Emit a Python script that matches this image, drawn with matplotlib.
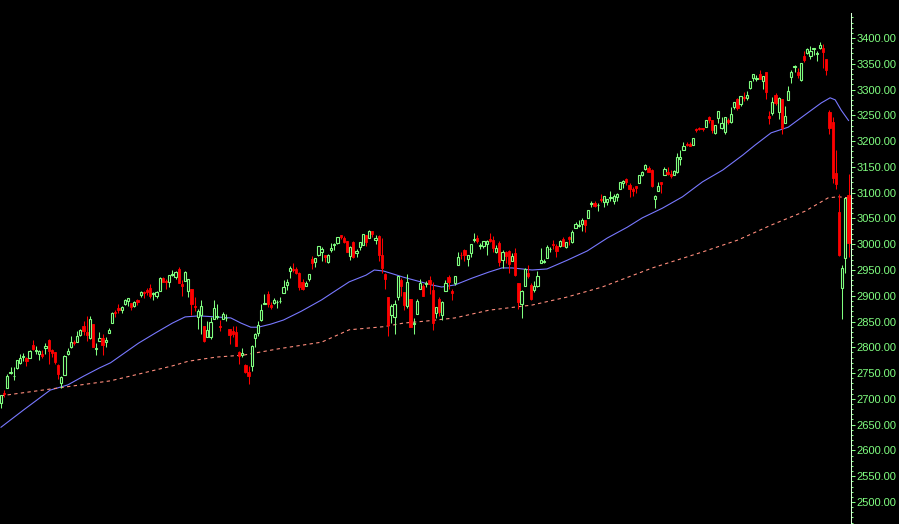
import matplotlib
matplotlib.use("Agg")
import matplotlib.pyplot as plt
from matplotlib.ticker import FixedLocator, FormatStrFormatter

# daily candles, Feb 8 2019 .. Mar 3 2020
opens = [
    # feb
    2692, 2712, 2722, 2750, 2744, 2760, 2770, 2782, 2780, 2780, 2805, 2793, 2787, 2788,
    # mar
    2798, 2814, 2794, 2790, 2766, 2731, 2747, 2787, 2800, 2810, 2810, 2823, 2841, 2829,
    2819, 2845, 2797, 2812, 2819, 2810, 2828,
    # apr
    2848, 2868, 2876, 2873, 2884, 2889, 2886, 2881, 2892, 2901, 2908, 2912, 2916, 2904,
    2899, 2910, 2935, 2928, 2926, 2941, 2937,
    # may
    2952, 2922, 2929, 2909, 2913, 2880, 2859, 2863, 2841, 2820, 2820, 2855, 2859, 2841,
    2855, 2856, 2836, 2832, 2830, 2790, 2786, 2766,
    # jun
    2752, 2763, 2819, 2828, 2853, 2885, 2903, 2882, 2886, 2887, 2889, 2906, 2920, 2949,
    2952, 2951, 2945, 2926, 2919, 2932,
    # jul
    2971, 2965, 2979, 2984, 2980, 2966, 2989, 2999, 3003, 3017, 3012, 3006, 2978, 3004,
    2982, 2994, 2999, 3017, 3013, 3025, 3008, 3016,
    # aug
    2980, 2943, 2898, 2862, 2858, 2897, 2930, 2907, 2880, 2894, 2846, 2864, 2913, 2919,
    2922, 2930, 2911, 2866, 2893, 2862, 2910, 2937,
    # sep
    2910, 2924, 2960, 2980, 2989, 2971, 2982, 3009, 3012, 2997, 2996, 3001, 3010, 3008,
    2984, 3003, 2969, 2985, 2986, 2968,
    # oct
    2983, 2925, 2885, 2919, 2945, 2921, 2911, 2918, 2963, 2966, 2974, 2990, 3001, 2996,
    2997, 3011, 2995, 3014, 3004, 3032, 3036, 3039, 3046,
    # nov
    3050, 3078, 3080, 3076, 3087, 3082, 3081, 3089, 3084, 3091, 3107, 3118, 3127, 3114,
    3108, 3112, 3118, 3134, 3146, 3148,
    # dec
    3144, 3088, 3104, 3120, 3135, 3141, 3136, 3135, 3141, 3166, 3183, 3195, 3195, 3192,
    3223, 3226, 3225, 3227, 3247, 3240, 3215,
    # jan
    3245, 3226, 3218, 3241, 3238, 3267, 3281, 3272, 3285, 3283, 3303, 3323, 3321, 3330,
    3316, 3334, 3248, 3255, 3289, 3256, 3282,
    # feb
    3235, 3280, 3324, 3344, 3335, 3318, 3366, 3370, 3365, 3378, 3369, 3380, 3380, 3360,
    3257, 3238, 3139, 3062, 2916,
    # mar
    2974, 3096,
]
highs = [
    2708, 2718, 2749, 2762, 2761, 2776, 2787, 2789, 2782, 2795, 2814, 2803, 2795, 2794,
    2808, 2816, 2796, 2791, 2767, 2744, 2785, 2798, 2821, 2815, 2831, 2836, 2852, 2861,
    2860, 2846, 2809, 2830, 2826, 2820, 2837,
    2869, 2872, 2885, 2881, 2893, 2896, 2886, 2889, 2893, 2910, 2909, 2916, 2922, 2908,
    2910, 2936, 2937, 2933, 2940, 2950, 2949,
    2955, 2931, 2948, 2933, 2914, 2898, 2875, 2891, 2841, 2852, 2858, 2892, 2885, 2853,
    2868, 2865, 2836, 2841, 2841, 2792, 2799, 2768,
    2763, 2804, 2828, 2852, 2884, 2904, 2910, 2888, 2896, 2891, 2898, 2930, 2932, 2958,
    2964, 2955, 2947, 2932, 2929, 2943,
    2977, 2974, 2996, 2995, 2980, 2981, 3003, 3002, 3014, 3018, 3015, 3006, 2996, 3007,
    2991, 3005, 3020, 3017, 3028, 3025, 3018, 3017,
    3013, 2945, 2898, 2884, 2892, 2938, 2935, 2908, 2943, 2894, 2857, 2893, 2932, 2923,
    2928, 2939, 2927, 2879, 2898, 2890, 2930, 2940,
    2914, 2938, 2985, 2985, 2990, 2980, 3000, 3021, 3017, 3003, 3006, 3008, 3022, 3016,
    2999, 3007, 2989, 2987, 2988, 2983,
    2993, 2925, 2911, 2953, 2959, 2925, 2929, 2948, 2993, 2972, 2998, 2994, 3008, 3000,
    3008, 3014, 3005, 3016, 3027, 3044, 3047, 3050, 3047,
    3067, 3084, 3083, 3079, 3098, 3094, 3088, 3103, 3098, 3099, 3121, 3124, 3128, 3119,
    3111, 3113, 3134, 3142, 3155, 3151,
    3145, 3095, 3120, 3120, 3150, 3149, 3143, 3143, 3176, 3182, 3198, 3198, 3199, 3206,
    3226, 3227, 3226, 3240, 3248, 3241, 3231,
    3258, 3246, 3247, 3245, 3267, 3275, 3283, 3288, 3295, 3298, 3317, 3330, 3329, 3338,
    3327, 3334, 3259, 3286, 3294, 3286, 3282,
    3268, 3306, 3337, 3347, 3341, 3352, 3375, 3381, 3385, 3381, 3375, 3393, 3389, 3360,
    3260, 3247, 3182, 3097, 2959,
    3090, 3136,
]
lows = [
    2682, 2703, 2722, 2748, 2737, 2757, 2768, 2774, 2763, 2780, 2794, 2788, 2775, 2780,
    2787, 2767, 2782, 2768, 2739, 2722, 2746, 2786, 2799, 2804, 2810, 2822, 2823, 2812,
    2817, 2800, 2785, 2812, 2786, 2800, 2827,
    2848, 2859, 2866, 2867, 2882, 2880, 2873, 2879, 2882, 2898, 2896, 2901, 2896, 2892,
    2896, 2909, 2926, 2913, 2917, 2939, 2932,
    2924, 2900, 2929, 2898, 2862, 2871, 2836, 2826, 2810, 2820, 2816, 2855, 2854, 2832,
    2855, 2852, 2806, 2820, 2802, 2767, 2781, 2750,
    2728, 2755, 2801, 2822, 2852, 2885, 2879, 2874, 2884, 2877, 2886, 2905, 2912, 2934,
    2946, 2943, 2911, 2912, 2918, 2929,
    2952, 2956, 2978, 2967, 2966, 2964, 2985, 2988, 3001, 3010, 3002, 2985, 2970, 2974,
    2975, 2988, 2999, 2997, 3013, 3014, 3000, 2967,
    2945, 2914, 2822, 2848, 2825, 2891, 2900, 2873, 2877, 2839, 2825, 2864, 2913, 2899,
    2917, 2904, 2834, 2856, 2860, 2853, 2910, 2914,
    2891, 2921, 2960, 2972, 2967, 2958, 2976, 3004, 3002, 2990, 2993, 2979, 3004, 2985,
    2982, 2957, 2953, 2963, 2945, 2967,
    2938, 2874, 2856, 2918, 2935, 2892, 2907, 2917, 2963, 2963, 2974, 2985, 2991, 2976,
    2995, 2996, 2992, 2999, 3002, 3032, 3034, 3026, 3023,
    3050, 3073, 3072, 3065, 3081, 3073, 3076, 3083, 3078, 3084, 3107, 3109, 3114, 3091,
    3094, 3099, 3118, 3132, 3144, 3140,
    3111, 3070, 3103, 3100, 3135, 3135, 3128, 3134, 3138, 3154, 3183, 3191, 3190, 3192,
    3217, 3222, 3220, 3227, 3235, 3215, 3213,
    3236, 3223, 3214, 3233, 3236, 3263, 3260, 3268, 3277, 3280, 3302, 3317, 3316, 3320,
    3302, 3281, 3234, 3250, 3271, 3242, 3214,
    3235, 3280, 3313, 3334, 3322, 3317, 3353, 3369, 3360, 3367, 3355, 3379, 3341, 3328,
    3214, 3118, 3108, 2977, 2855,
    2945, 2976,
]
closes = [
    2708, 2709, 2744, 2753, 2745, 2775, 2780, 2784, 2774, 2793, 2796, 2793, 2792, 2784,
    2803, 2792, 2789, 2771, 2749, 2743, 2783, 2792, 2811, 2808, 2822, 2833, 2832, 2824,
    2854, 2801, 2798, 2818, 2805, 2815, 2834,
    2867, 2867, 2873, 2879, 2892, 2896, 2878, 2888, 2888, 2907, 2905, 2907, 2900, 2905,
    2908, 2934, 2927, 2926, 2940, 2943, 2946,
    2924, 2918, 2946, 2932, 2884, 2879, 2871, 2881, 2812, 2834, 2850, 2876, 2860, 2840,
    2864, 2857, 2823, 2826, 2802, 2783, 2789, 2752,
    2744, 2803, 2826, 2843, 2873, 2886, 2885, 2879, 2891, 2887, 2889, 2917, 2926, 2954,
    2950, 2945, 2917, 2914, 2924, 2942,
    2964, 2973, 2996, 2990, 2976, 2979, 2993, 3000, 3014, 3014, 3004, 2985, 2995, 2976,
    2986, 3005, 3019, 3004, 3026, 3020, 3013, 2980,
    2954, 2932, 2844, 2881, 2884, 2938, 2919, 2883, 2926, 2840, 2848, 2889, 2924, 2900,
    2925, 2922, 2847, 2878, 2869, 2887, 2924, 2926,
    2906, 2938, 2976, 2979, 2979, 2980, 3000, 3010, 3007, 2998, 3006, 3006, 3006, 2992,
    2992, 2966, 2984, 2977, 2961, 2977,
    2940, 2887, 2910, 2952, 2938, 2893, 2919, 2938, 2970, 2966, 2995, 2990, 2998, 2986,
    3006, 2996, 3004, 3010, 3023, 3039, 3036, 3047, 3038,
    3067, 3078, 3075, 3077, 3085, 3093, 3087, 3092, 3094, 3097, 3120, 3122, 3120, 3108,
    3104, 3110, 3134, 3141, 3154, 3141,
    3113, 3093, 3113, 3117, 3146, 3136, 3133, 3142, 3169, 3169, 3191, 3192, 3191, 3206,
    3221, 3224, 3223, 3240, 3240, 3221, 3231,
    3258, 3235, 3246, 3237, 3253, 3275, 3265, 3288, 3283, 3289, 3317, 3330, 3321, 3321,
    3326, 3295, 3244, 3276, 3273, 3284, 3226,
    3249, 3298, 3334, 3345, 3328, 3352, 3358, 3379, 3374, 3380, 3370, 3386, 3373, 3338,
    3226, 3128, 3116, 2979, 2954,
    3090, 3003,
]

# moving averages, sampled along the drawn lines (candle index, value)
ma_fast_x = [0, 7, 15.5, 21, 26, 31, 34.5, 43.3, 48.7, 54, 58, 62.3, 67.7, 72.4, 75.6,
             78.7, 81, 85, 89, 94.6, 101, 104.7, 109.7, 115, 117.6, 120.5, 123.7, 126.8,
             131, 135.7, 138.8, 143, 148.3, 153.7, 157.8, 161, 167.3, 172, 178.4, 184.7,
             191, 197.3, 202, 208.4, 214.7, 221, 227.4, 233.7, 237.5, 242.6, 248, 253.3,
             258.4, 261.2, 262.8, 264.7, 267]
ma_fast = [2645, 2678, 2717, 2727, 2744, 2760, 2770, 2808, 2828, 2847, 2859, 2861, 2859,
           2857, 2847, 2839, 2839, 2845, 2853, 2870, 2892, 2907, 2927, 2940, 2950, 2948,
           2942, 2936, 2929, 2921, 2917, 2921, 2934, 2946, 2954, 2954, 2950, 2952, 2969,
           2987, 3012, 3033, 3051, 3070, 3092, 3121, 3144, 3173, 3192, 3216, 3227, 3251,
           3274, 3284, 3280, 3260, 3240]

ma_slow_x = [0, 34.5, 43.3, 54, 59, 67.7, 76.5, 87.3, 101, 109.7, 120.5, 126.8, 134, 143,
             153.7, 167.3, 178, 189.4, 205.2, 221, 232.1, 242.6, 253.3, 260.6, 263.8, 267]
ma_slow = [2706, 2735, 2748, 2764, 2773, 2781, 2785, 2797, 2810, 2834, 2840, 2847, 2851,
           2857, 2872, 2882, 2897, 2917, 2954, 2985, 3008, 3037, 3064, 3090, 3092, 3090]

# price scale
major_ticks = list(range(2500, 3401, 50))
minor_ticks = list(range(2460, 3441, 10))

UP = '#80ff80'
DOWN = '#ff0000'

fig = plt.figure(figsize=(8.99, 5.24), dpi=100, facecolor='black')
ax = fig.add_axes([0, 0, 851 / 899, 1])
ax.set_facecolor('black')

ax.plot(ma_fast_x, ma_fast, color='#7878ff', lw=0.8, zorder=1)
ax.plot(ma_slow_x, ma_slow, color='#ff8c7c', lw=0.8, ls=(0, (3, 3)), zorder=1)

w = 0.7
for i in range(len(closes)):
    o, h, l, c = opens[i], highs[i], lows[i], closes[i]
    if c >= o:
        col = UP
        ax.vlines(i, l, h, color=col, lw=0.75, zorder=2)
        ax.bar(i, max(c - o, 1.0), w, bottom=o, facecolor='black', edgecolor=col,
               linewidth=0.8, zorder=3)
    else:
        col = DOWN
        ax.vlines(i, l, h, color=col, lw=0.75, zorder=2)
        ax.bar(i, o - c, w, bottom=c, facecolor=col, edgecolor=col,
               linewidth=0.6, zorder=3)

ax.set_xlim(-0.315, 267.78)
ax.set_ylim(2457.3, 3473.7)

for s in ['left', 'top', 'bottom']:
    ax.spines[s].set_visible(False)
ax.spines['right'].set_color('#d8ffd8')
ax.spines['right'].set_linewidth(0.75)
ax.spines['right'].set_bounds(2457.3, 3448)

ax.set_xticks([])
ax.yaxis.tick_right()
ax.yaxis.set_major_locator(FixedLocator(major_ticks))
ax.yaxis.set_minor_locator(FixedLocator(minor_ticks))
ax.yaxis.set_major_formatter(FormatStrFormatter('%.2f'))
ax.tick_params(axis='y', which='major', colors=UP, length=3, width=0.75, pad=1.2,
               labelsize=8)
ax.tick_params(axis='y', which='minor', colors=UP, length=1.5, width=0.75)
for lab in ax.get_yticklabels():
    lab.set_fontfamily('Liberation Sans')

fig.savefig('out.png', dpi=100, facecolor='black')
